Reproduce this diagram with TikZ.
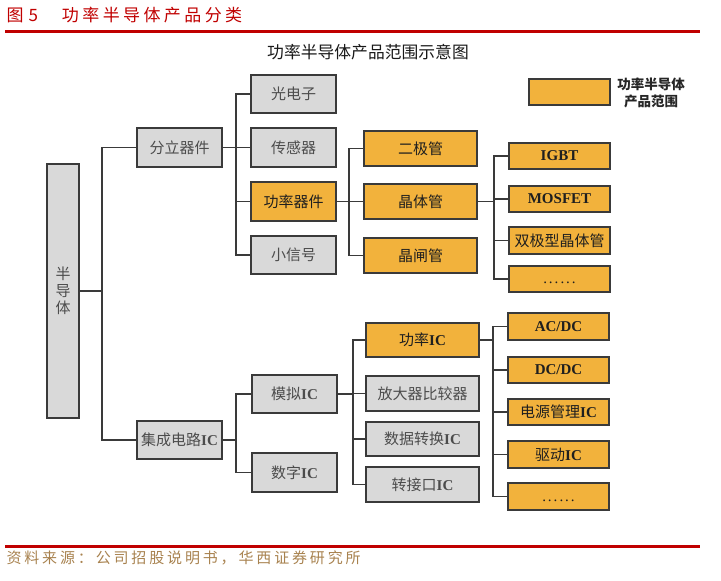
\documentclass[tikz,border=0pt]{standalone}
\usepackage{fontspec}
\setmainfont{Liberation Serif}
\newfontfamily\cjk{Noto Sans CJK SC}
\newfontfamily\cjkwide[LetterSpace=20]{Noto Sans CJK SC}
\newfontfamily\cjkfoot[LetterSpace=19]{Noto Sans CJK SC}
\definecolor{hxred}{HTML}{C00000}
\definecolor{hxtan}{HTML}{A8824F}
\definecolor{boxline}{HTML}{3A3A3A}
\definecolor{boxgray}{HTML}{D9D9D9}
\definecolor{boxorg}{HTML}{F2B23C}
\newcommand\zh[1]{{\cjk\mdseries #1}}
\newcommand\dotrow{\vphantom{I}.\kern2pt.\kern2pt.\kern2pt.\kern2pt.\kern2pt.}

\tikzset{
    box/.style={draw=boxline, line width=1.7pt, inner sep=0pt,
        font=\fontsize{15}{17}\selectfont\bfseries},
    graybox/.style={box, fill=boxgray, text=black!70},
    orgbox/.style={box, fill=boxorg, text=black!88},
    tierA/.style={minimum width=85, minimum height=38.5},
    tierB/.style={minimum width=113, minimum height=34.5},
    tierC/.style={minimum width=101, minimum height=26.5},
    link/.style={draw=boxline, line width=1.7pt},
}

\begin{document}
\begin{tikzpicture}[x=1pt, y=-1pt]
        \useasboundingbox (0,0) rectangle (721,581);
        % heading and rules
        \node[anchor=west, text=hxred, font=\fontsize{17}{19}\selectfont] (ttl) at (3,15)
            {{\cjk 图}\hspace{5pt}{\cjk 5}\hspace{24pt}{\cjkwide 功率半导体产品分类}};
        \draw[hxred, line width=3pt] (5,31.5) -- (700,31.5);
        \draw[hxred, line width=3pt] (5,546.5) -- (700,546.5);
        \node[text=hxtan, anchor=west, font=\fontsize{15}{17}\selectfont] (src) at (3,558)
            {\cjkfoot 资料来源：公司招股说明书，华西证券研究所};
        \node[font=\fontsize{16.8}{18}\selectfont, text=black!90] (sub) at (368,52)
            {\zh{功率半导体产品范围示意图}};

        % legend
        \node[orgbox, minimum width=81, minimum height=26] (leg) at (569.5,92) {};
        \node[align=center, text=black!85, font=\fontsize{13.5}{17}\selectfont\cjk\bfseries] (legtxt) at (651,92.5)
            {功率半导体\\产品范围};

        % root
        \node[graybox, minimum width=32, minimum height=254, align=center,
            font=\fontsize{15}{17}\selectfont\cjk] (root) at (63,291) {半\\导\\体};

        % discrete devices
        \node[graybox, tierA] (fl) at (179.5,147.5) {\zh{分立器件}};
        \node[graybox, tierA] (gdz) at (293.5,94) {\zh{光电子}};
        \node[graybox, tierA] (cgq) at (293.5,147.5) {\zh{传感器}};
        \node[orgbox, tierA] (glqj) at (293.5,201.5) {\zh{功率器件}};
        \node[graybox, tierA] (xxh) at (293.5,255) {\zh{小信号}};
        \node[orgbox, tierB] (ejg) at (420.5,148.5) {\zh{二极管}};
        \node[orgbox, tierB] (jtg) at (420.5,201.5) {\zh{晶体管}};
        \node[orgbox, tierB] (jzg) at (420.5,255.5) {\zh{晶闸管}};
        \node[orgbox, tierC] (igbt) at (559.5,156) {IGBT};
        \node[orgbox, tierC] (mos) at (559.5,199) {MOSFET};
        \node[orgbox, tierC] (sjx) at (559.5,240.5) {\zh{双极型晶体管}};
        \node[orgbox, tierC] (etcA) at (559.5,279) {\mdseries\dotrow};

        % integrated circuits
        \node[graybox, tierA] (jc) at (179.5,440) {\zh{集成电路}IC};
        \node[graybox, tierA] (mn) at (294.5,394) {\zh{模拟}IC};
        \node[graybox, tierA] (sz) at (294.5,472.5) {\zh{数字}IC};
        \node[orgbox, tierB] (glic) at (422.5,340) {\zh{功率}IC};
        \node[graybox, tierB] (fdq) at (422.5,393.5) {\zh{放大器比较器}};
        \node[graybox, tierB] (sjzh) at (422.5,439) {\zh{数据转换}IC};
        \node[graybox, tierB] (zjk) at (422.5,484.5) {\zh{转接口}IC};
        \node[orgbox, tierC] (acdc) at (558.5,326.5) {AC/DC};
        \node[orgbox, tierC] (dcdc) at (558.5,370) {DC/DC};
        \node[orgbox, tierC] (dygl) at (558.5,412) {\zh{电源管理}IC};
        \node[orgbox, tierC] (qd) at (558.5,454.5) {\zh{驱动}IC};
        \node[orgbox, tierC] (etcB) at (558.5,496.5) {\mdseries\dotrow};

        % connectors
        \foreach \c in {fl,jc}
            \draw[link] (root.east) -- ++(22,0) |- (\c.west);
        \foreach \c in {gdz,cgq,glqj,xxh}
            \draw[link] (fl.east) -- ++(13,0) |- (\c.west);
        \foreach \c in {ejg,jtg,jzg}
            \draw[link] (glqj.east) -- ++(12,0) |- (\c.west);
        \foreach \c in {igbt,mos,sjx,etcA}
            \draw[link] (jtg.east) -- ++(16,0) |- (\c.west);
        \foreach \c in {mn,sz}
            \draw[link] (jc.east) -- ++(13,0) |- (\c.west);
        \foreach \c in {glic,fdq,sjzh,zjk}
            \draw[link] (mn.east) -- ++(15,0) |- (\c.west);
        \foreach \c in {acdc,dcdc,dygl,qd,etcB}
            \draw[link] (glic.east) -- ++(13,0) |- (\c.west);
\end{tikzpicture}
\end{document}
